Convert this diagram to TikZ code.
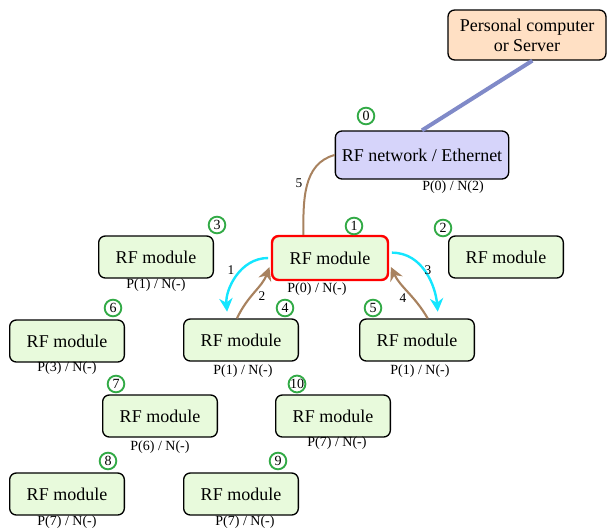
\documentclass[tikz,border=0pt]{standalone}
\usepackage{fontspec}
\setmainfont{Liberation Serif}
\usetikzlibrary{arrows.meta}
\definecolor{modfill}{RGB}{232,250,220}
\definecolor{netfill}{RGB}{214,212,250}
\definecolor{pcfill}{RGB}{255,224,196}
\definecolor{badgegreen}{RGB}{50,170,70}
\definecolor{brownlink}{RGB}{168,130,95}
\definecolor{cyanlink}{RGB}{20,230,255}
\definecolor{uplinkblue}{RGB}{128,138,200}
\begin{document}
\begin{tikzpicture} [x = 0.75pt, y = 0.75pt,
  module/.style = {draw, line width = 1pt, rounded corners = 5pt, fill = modfill, minimum width = 86pt, minimum height = 31.5pt, inner sep = 1pt, font = \fontsize{13.5}{15}\selectfont},
  badge/.style = {circle, draw = badgegreen, line width = 1.4pt, fill = white, minimum size = 12.5pt, inner sep = 0pt, font = \fontsize{10.5}{11}\selectfont},
  addr/.style = {inner sep = 0pt, font = \fontsize{10.5}{12}\selectfont},
  hop/.style = {inner sep = 0pt, font = \fontsize{10}{11}\selectfont},
  req/.style = {cyanlink, line width = 1.8pt, shorten > = 5pt, -{Stealth[length = 10pt, width = 10pt]}},
  ack/.style = {brownlink, line width = 1.6pt, shorten > = 3pt, -{Stealth[length = 10pt, width = 10pt]}}]
\useasboundingbox (0, 0) rectangle (608, -529);
\node[draw, line width = 1pt, rounded corners = 5pt, fill = pcfill, minimum width = 118.5pt, minimum height = 37.5pt, inner sep = 1pt, align = center, font = \fontsize{13.5}{15}\selectfont] (pc) at (527, -35){Personal computer\\or Server};
\node[draw, line width = 1pt, rounded corners = 5pt, fill = netfill, minimum width = 130pt, minimum height = 36pt, inner sep = 1pt, font = \fontsize{13.5}{15}\selectfont] (net) at (422, -155){RF network / Ethernet};
\node[badge] (b0) at (366, -116){0};
\node[addr] (a0) at (453, -187){P(0) / N(2)};
\node[module, draw = red, line width = 1.8pt, minimum width = 87pt, minimum height = 33pt] (m1) at (330, -258){RF module};
\node[module] (m2) at (506, -257){RF module};
\node[module] (m3) at (156, -257){RF module};
\node[module] (m4) at (241, -340){RF module};
\node[module] (m5) at (417, -340){RF module};
\node[module] (m6) at (67, -341){RF module};
\node[module] (m7) at (160, -416){RF module};
\node[module] (m8) at (67, -494){RF module};
\node[module] (m9) at (241, -494){RF module};
\node[module] (m10) at (333, -416){RF module};
\node[badge] (b1) at (354, -226){1};
\node[badge] (b2) at (443, -228){2};
\node[badge] (b3) at (217, -225){3};
\node[badge] (b4) at (285, -308){4};
\node[badge] (b5) at (373, -308){5};
\node[badge] (b6) at (113, -308){6};
\node[badge] (b7) at (116, -384){7};
\node[badge] (b8) at (108, -461){8};
\node[badge] (b9) at (278, -461){9};
\node[badge] (b10) at (297, -384){10};
\node[addr] (a1) at (317, -289){P(0) / N(-)};
\node[addr] (a3) at (156, -285){P(1) / N(-)};
\node[addr] (a4) at (243, -371){P(1) / N(-)};
\node[addr] (a5) at (420, -371){P(1) / N(-)};
\node[addr] (a6) at (67, -368){P(3) / N(-)};
\node[addr] (a7) at (160, -447){P(6) / N(-)};
\node[addr] (a10) at (337, -443){P(7) / N(-)};
\node[addr] (a8) at (67, -522){P(7) / N(-)};
\node[addr] (a9) at (245, -522){P(7) / N(-)};
\draw[uplinkblue, line width = 3pt] ([xshift = 4pt]pc.south) -- (net.north);
\draw[brownlink, line width = 1.5pt] ([xshift = -20pt]m1.north)to [out = 90, in = 195](net.west);
\draw[req] ([xshift = -2pt]m1.west)to [out = 180, in = 95]([xshift = -10pt]m4.north);
\draw[ack] ([xshift = -3pt]m4.north)to [out = 65, in = 250]([yshift = -4pt]m1.west);
\draw[req] ([xshift = 2pt, yshift = 4pt]m1.east)to [out = 0, in = 95]([xshift = 16pt]m5.north);
\draw[ack] ([xshift = 8pt]m5.north)to [out = 120, in = -65]([yshift = -4pt]m1.east);
\node[hop] (l1) at (231, -270){1};
\node[hop] (l2) at (262, -296){2};
\node[hop] (l3) at (428, -270){3};
\node[hop] (l4) at (403, -298){4};
\node[hop] (l5) at (299, -183){5};
\end{tikzpicture}
\end{document}
